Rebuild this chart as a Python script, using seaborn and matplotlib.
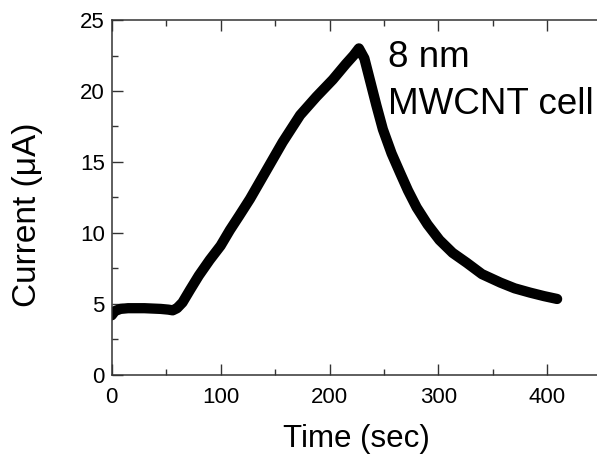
import numpy as np
import pandas as pd
import matplotlib
matplotlib.use("Agg")
import matplotlib.pyplot as plt
import seaborn as sns
from matplotlib.ticker import MultipleLocator

# values
time_sec = [0, 3, 8, 15, 30, 45, 52, 56, 60, 65, 72, 80, 90, 100, 108.5, 117, 127,
            142, 157, 173, 188, 203, 215, 222, 227,
            232, 237, 243, 249, 257, 265, 272, 280, 290, 301, 313, 326,
            340, 357, 370, 384, 397, 409]
current_uA = [4.2, 4.5, 4.65, 4.7, 4.7, 4.65, 4.6, 4.55, 4.7, 5.1, 6.0, 7.0, 8.1, 9.1, 10.2, 11.2, 12.4,
              14.4, 16.4, 18.3, 19.6, 20.8, 21.9, 22.5, 23.0,
              22.3, 20.8, 19.0, 17.3, 15.6, 14.2, 13.0, 11.8, 10.6, 9.5, 8.6, 7.9,
              7.1, 6.5, 6.1, 5.8, 5.55, 5.35]

label_text = "8 nm\nMWCNT cell"

df = pd.DataFrame({"Time": time_sec, "Current": current_uA})

sns.set_style("ticks", {"xtick.direction": "in", "ytick.direction": "in",
                        "text.color": "black", "axes.labelcolor": "black",
                        "xtick.color": "black", "ytick.color": "black"})
plt.rcParams["font.family"] = ["Liberation Sans", "DejaVu Sans"]

fig = plt.figure(figsize=(5.97, 4.55), dpi=100)
ax = fig.add_axes([0.1871, 0.176, 0.8209, 0.780])

sns.lineplot(data=df, x="Time", y="Current", ax=ax, color="black",
             linewidth=7.4, sort=False)

ax.set_xlim(0, 450)
ax.set_ylim(0, 25)
ax.xaxis.set_major_locator(MultipleLocator(100))
ax.xaxis.set_minor_locator(MultipleLocator(50))
ax.yaxis.set_major_locator(MultipleLocator(5))
ax.yaxis.set_minor_locator(MultipleLocator(2.5))
ax.tick_params(which="both", direction="in", top=True, right=False,
               labelsize=16, width=1, color="#333333", labelcolor="black")
ax.tick_params(axis="x", which="both", pad=9)
ax.tick_params(axis="y", which="both", pad=5)
ax.tick_params(which="major", length=8)
ax.tick_params(which="minor", length=4)
for s in ["left", "bottom", "top"]:
    ax.spines[s].set_visible(True)
    ax.spines[s].set_linewidth(1.1)
    ax.spines[s].set_color("#333333")
ax.spines["right"].set_visible(False)

ax.set_xlabel("Time (sec)", fontsize=22.5, labelpad=11, color="black")
ax.set_ylabel("Current (\u03bcA)", fontsize=24, color="black")
ax.yaxis.set_label_coords(-0.141, 0.45)

ax.text(254, 23.6, label_text, fontsize=26.5, va="top", ha="left",
        linespacing=1.45, color="black")

fig.savefig("out.png", dpi=100)
